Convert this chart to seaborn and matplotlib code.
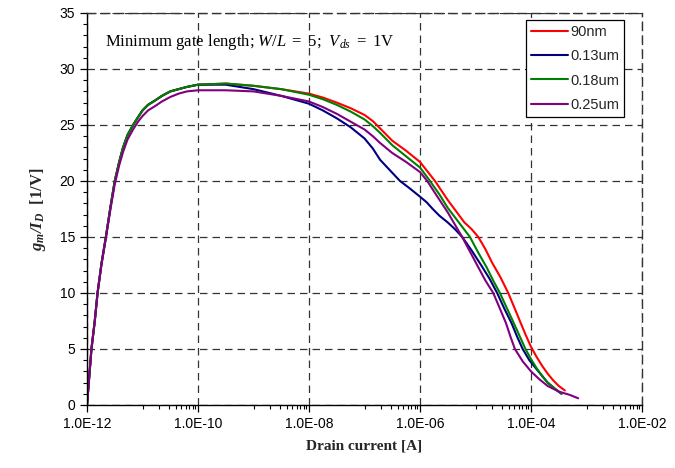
import numpy as np
import pandas as pd
import matplotlib
matplotlib.use("Agg")
import matplotlib.pyplot as plt
import matplotlib.ticker as mticker
import seaborn as sns

# ---- data (log10 of drain current, gm/Id) ----
series_names = ["90nm", "0.13um", "0.18um", "0.25um"]
series_colors = ["#FF0000", "#000080", "#008000", "#800080"]

rise_log = [-12.0, -11.96, -11.92, -11.86, -11.81, -11.74, -11.66, -11.58, -11.5, -11.42, -11.35, -11.27,
            -11.17, -11.08, -11.0, -10.9, -10.77, -10.65, -10.5, -10.35, -10.2, -10.0]
rise_y = [0.0, 2.5, 5.0, 7.5, 10.0, 12.6, 15.0, 17.6, 20.0, 21.7, 23.0, 24.1,
          25.0, 25.7, 26.3, 26.8, 27.2, 27.6, 28.0, 28.2, 28.4, 28.6]
rise_y_purple = [0.0, 2.5, 5.0, 7.5, 10.0, 12.5, 14.9, 17.4, 19.7, 21.4, 22.6, 23.7,
                 24.6, 25.3, 25.8, 26.3, 26.7, 27.1, 27.5, 27.8, 28.0, 28.1]

red_log = [-9.5, -9.0, -8.5, -8.0, -7.75, -7.5, -7.25, -7.0, -6.85, -6.72, -6.5, -6.25, -6.0, -5.73, -5.5, -5.35,
           -5.2, -5.07, -4.95, -4.82, -4.7, -4.55, -4.41, -4.3, -4.2, -4.1, -4.0, -3.9, -3.8, -3.7, -3.6, -3.5, -3.39]
red_y = [28.7, 28.5, 28.2, 27.8, 27.45, 27.0, 26.5, 25.9, 25.35, 24.7, 23.6, 22.7, 21.7, 20.0, 18.3, 17.3,
         16.3, 15.7, 15.0, 13.9, 12.7, 11.4, 10.0, 8.7, 7.5, 6.3, 5.2, 4.3, 3.5, 2.8, 2.2, 1.7, 1.3]

blue_log = [-9.5, -9.0, -8.5, -8.0, -7.75, -7.5, -7.25, -7.0, -6.85, -6.72, -6.55, -6.36, -6.2, -6.0, -5.88, -5.77,
            -5.65, -5.5, -5.37, -5.24, -5.07, -4.9, -4.75, -4.61, -4.48, -4.35, -4.25, -4.15, -4.03, -3.9, -3.8,
            -3.7, -3.58, -3.45]
blue_y = [28.6, 28.2, 27.6, 26.9, 26.3, 25.6, 24.8, 23.8, 22.9, 21.9, 21.0, 20.0, 19.4, 18.6, 18.1, 17.5,
          16.9, 16.3, 15.7, 15.0, 13.8, 12.5, 11.3, 10.0, 8.6, 7.3, 6.1, 5.0, 4.0, 3.2, 2.6, 2.0, 1.5, 1.0]

green_log = [-9.5, -9.0, -8.5, -8.0, -7.75, -7.5, -7.25, -7.0, -6.85, -6.72, -6.5, -6.25, -6.0, -5.82, -5.65, -5.5,
             -5.3, -5.1, -4.95, -4.8, -4.68, -4.56, -4.43, -4.3, -4.2, -4.1, -4.0, -3.9, -3.8, -3.7, -3.58, -3.45]
green_y = [28.7, 28.5, 28.2, 27.7, 27.3, 26.8, 26.2, 25.5, 24.9, 24.3, 23.2, 22.2, 21.2, 20.0, 18.8, 17.6,
           16.3, 15.0, 13.6, 12.3, 11.1, 10.0, 8.6, 7.2, 6.1, 5.0, 4.1, 3.3, 2.6, 2.0, 1.5, 1.0]

purple_log = [-9.5, -9.0, -8.5, -8.0, -7.75, -7.5, -7.25, -7.0, -6.85, -6.72, -6.5, -6.25, -6.0, -5.87, -5.7, -5.5,
              -5.37, -5.24, -5.1, -4.95, -4.82, -4.68, -4.56, -4.45, -4.37, -4.29, -4.15, -4.0, -3.85, -3.7,
              -3.5, -3.3, -3.15]
purple_y = [28.1, 28.0, 27.6, 27.1, 26.6, 26.0, 25.3, 24.6, 24.0, 23.4, 22.5, 21.7, 20.8, 20.0, 18.7, 17.2,
            16.1, 15.0, 13.7, 12.3, 11.1, 10.0, 8.6, 7.3, 6.1, 5.0, 3.9, 3.0, 2.3, 1.7, 1.2, 0.9, 0.6]

x_tick_exps = [-12, -10, -8, -6, -4, -2]
y_ticks = [0, 5, 10, 15, 20, 25, 30, 35]

# ---- build long table ----
parts = []
for name, lg, yy, ry in [("90nm", red_log, red_y, rise_y),
                         ("0.13um", blue_log, blue_y, rise_y),
                         ("0.18um", green_log, green_y, rise_y),
                         ("0.25um", purple_log, purple_y, rise_y_purple)]:
    logs = list(rise_log) + list(lg)
    ys = list(ry) + list(yy)
    parts.append(pd.DataFrame({"current": np.power(10.0, logs), "gm": ys, "device": name}))
df = pd.concat(parts, ignore_index=True)

sns.set_theme(style="white")
plt.rcParams["font.family"] = ["Liberation Sans", "DejaVu Sans"]
plt.rcParams["mathtext.fontset"] = "custom"
plt.rcParams["mathtext.rm"] = "Liberation Serif"
plt.rcParams["mathtext.it"] = "Liberation Serif:italic"
plt.rcParams["mathtext.bf"] = "Liberation Serif:bold:italic"

fig = plt.figure(figsize=(6.75, 4.68), dpi=100)
ax = fig.add_axes([87 / 675, 1 - 405 / 468, (642 - 87) / 675, (405 - 13) / 468])

sns.lineplot(data=df, x="current", y="gm", hue="device", hue_order=series_names,
             palette=series_colors, estimator=None, sort=False, linewidth=1.5, ax=ax)

ax.set_xscale("log")
ax.set_xlim(1e-12, 1e-2)
ax.set_ylim(0, 35)

ax.xaxis.set_major_locator(mticker.FixedLocator([10.0 ** e for e in x_tick_exps]))
ax.xaxis.set_major_formatter(mticker.FixedFormatter(["1.0E%+03d" % e for e in x_tick_exps]))
minor = []
for e in x_tick_exps[:-1]:
    for j in range(1, 10):
        minor.append(j * 10.0 ** (e + 1))
ax.xaxis.set_minor_locator(mticker.FixedLocator(minor))
ax.xaxis.set_minor_formatter(mticker.NullFormatter())

ax.yaxis.set_major_locator(mticker.FixedLocator(y_ticks))
ax.yaxis.set_minor_locator(mticker.MultipleLocator(1))

ax.tick_params(axis="both", which="major", direction="out", length=5, width=0.9,
               color="black", labelsize=10, labelcolor="black", bottom=True, left=True)
ax.tick_params(axis="both", which="minor", direction="out", length=3, width=0.8,
               color="black", bottom=True, left=True)

ax.grid(True, which="major", color="#333333", linestyle=(0, (6, 4)), linewidth=0.9)
for s in ["left", "bottom"]:
    ax.spines[s].set_color("black")
    ax.spines[s].set_linewidth(1.0)
for s in ["top", "right"]:
    ax.spines[s].set_color("#333333")
    ax.spines[s].set_linewidth(1.0)
    ax.spines[s].set_linestyle((0, (6, 4)))

ax.set_xlabel("Drain current [A]", fontsize=11, fontweight="bold",
              family="Liberation Serif", labelpad=6)
ax.set_ylabel(r"$\mathbf{g_m/I_D}$  [1/V]", fontsize=12, fontweight="bold",
              family="Liberation Serif", labelpad=8)

ax.text(0.033, 0.925, r"Minimum gate length; $W/L\ =\ 5$;  $V_{ds}\ =\ \mathrm{1V}$",
        transform=ax.transAxes, fontsize=12, family="Liberation Serif",
        ha="left", va="center", color="black")

leg = ax.legend(loc="upper right", bbox_to_anchor=((624 - 87) / 555, (405 - 20) / 392),
                borderaxespad=0, frameon=True, fancybox=False, fontsize=10.5,
                handlelength=2.5, handletextpad=0.15, labelspacing=0.7,
                borderpad=0.35, title=None)
leg.get_frame().set_edgecolor("black")
leg.get_frame().set_linewidth(0.9)
leg.get_frame().set_alpha(1)
for line in leg.get_lines():
    line.set_linewidth(1.5)

fig.savefig("out.png", dpi=100)
